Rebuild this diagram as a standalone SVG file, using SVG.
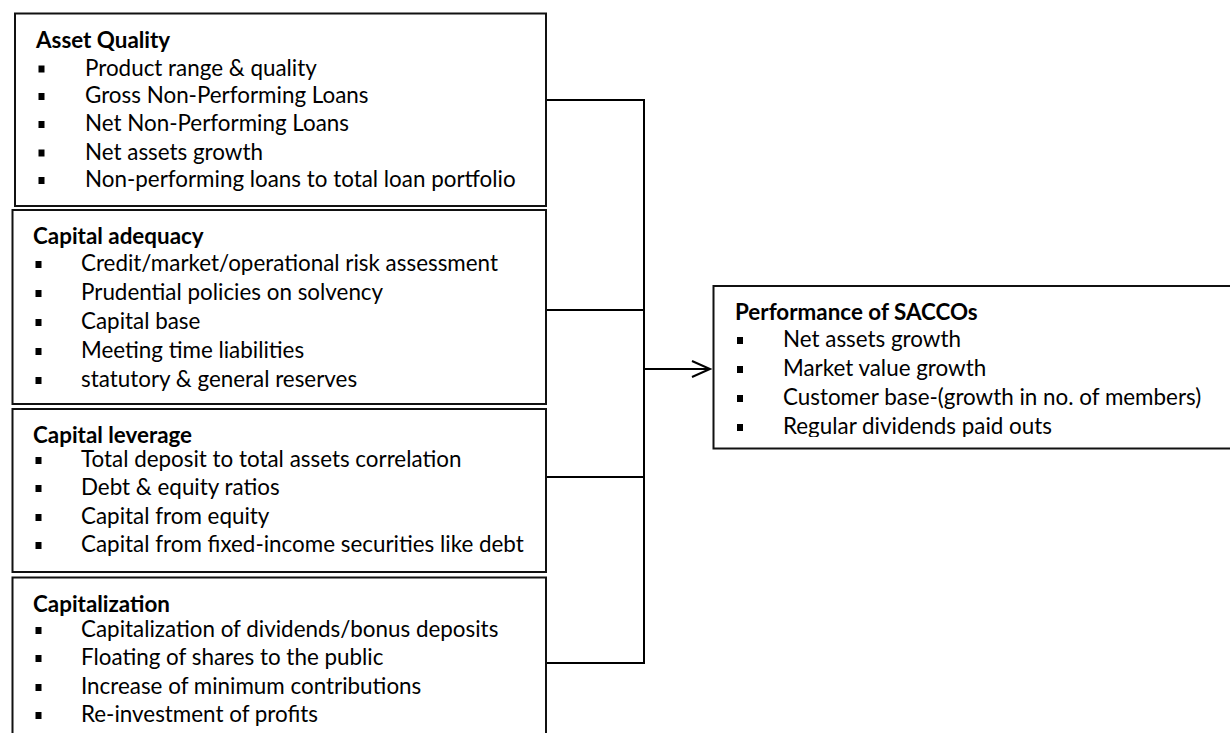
<svg xmlns="http://www.w3.org/2000/svg" width="1230" height="733" viewBox="0 0 1230 733">
<defs>
<style>
.box{fill:#fff;stroke:#111;stroke-width:2}
.t{font-family:Lato,"Noto Sans","Liberation Sans",sans-serif;font-size:22.4px;fill:#000}
.h{font-weight:bold}
.b{fill:#000}
.c{stroke:#000;stroke-width:2;fill:none}
</style>
<marker id="arr" markerWidth="24" markerHeight="20" refX="20" refY="10" orient="auto" markerUnits="userSpaceOnUse">
<path d="M2,2 L20,10 L2,18" fill="none" stroke="#000" stroke-width="2"/>
</marker>
<clipPath id="clipPerf"><rect x="700" y="280" width="540" height="157"/></clipPath>
<clipPath id="clipCap"><rect x="0" y="570" width="560" height="156"/></clipPath>
</defs>
<rect width="1230" height="733" fill="#fff"/>

<g id="connectors">
<line class="c" x1="546" y1="100" x2="644" y2="100"/>
<line class="c" x1="546" y1="310" x2="644" y2="310"/>
<line class="c" x1="546" y1="477" x2="644" y2="477"/>
<line class="c" x1="546" y1="663" x2="644" y2="663"/>
<line class="c" x1="644" y1="99" x2="644" y2="664"/>
<line class="c" x1="644" y1="369" x2="710" y2="369" marker-end="url(#arr)"/>
</g>

<g id="asset-quality">
<rect class="box" x="15" y="13.5" width="531" height="192.5"/>
<text class="t h" x="36" y="48">Asset Quality</text>
<rect class="b" x="38.5" y="65.5" width="6" height="7"/>
<text class="t" x="85" y="75.5">Product range &amp; quality</text>
<rect class="b" x="38.5" y="93" width="6" height="7"/>
<text class="t" x="85" y="103">Gross Non-Performing Loans</text>
<rect class="b" x="38.5" y="121" width="6" height="7"/>
<text class="t" x="85" y="131">Net Non-Performing Loans</text>
<rect class="b" x="38.5" y="149.5" width="6" height="7"/>
<text class="t" x="85" y="159.5">Net assets growth</text>
<rect class="b" x="38.5" y="177" width="6" height="7"/>
<text class="t" x="85" y="187">Non-performing loans to total loan portfolio</text>
</g>

<g id="capital-adequacy">
<rect class="box" x="12.5" y="210" width="533.5" height="194"/>
<text class="t h" x="33" y="243.5">Capital adequacy</text>
<rect class="b" x="35.5" y="261" width="6" height="7"/>
<text class="t" x="81" y="271">Credit/market/operational risk assessment</text>
<rect class="b" x="35.5" y="290" width="6" height="7"/>
<text class="t" x="81" y="300">Prudential policies on solvency</text>
<rect class="b" x="35.5" y="319" width="6" height="7"/>
<text class="t" x="81" y="329">Capital base</text>
<rect class="b" x="35.5" y="348" width="6" height="7"/>
<text class="t" x="81" y="358">Meeting time liabilities</text>
<rect class="b" x="35.5" y="377" width="6" height="7"/>
<text class="t" x="81" y="387">statutory &amp; general reserves</text>
</g>

<g id="capital-leverage">
<rect class="box" x="12.5" y="409" width="533.5" height="163"/>
<text class="t h" x="33" y="442.5">Capital leverage</text>
<rect class="b" x="35.5" y="457" width="6" height="7"/>
<text class="t" x="81" y="467">Total deposit to total assets correlation</text>
<rect class="b" x="35.5" y="485" width="6" height="7"/>
<text class="t" x="81" y="495">Debt &amp; equity ratios</text>
<rect class="b" x="35.5" y="514" width="6" height="7"/>
<text class="t" x="81" y="524">Capital from equity</text>
<rect class="b" x="35.5" y="542" width="6" height="7"/>
<text class="t" x="81" y="552">Capital from fixed-income securities like debt</text>
</g>

<g id="capitalization">
<rect class="box" x="12.5" y="577.5" width="533.5" height="170"/>
<g clip-path="url(#clipCap)">
<text class="t h" x="33" y="611.5">Capitalization</text>
<rect class="b" x="35.5" y="627" width="6" height="7"/>
<text class="t" x="81" y="637">Capitalization of dividends/bonus deposits</text>
<rect class="b" x="35.5" y="655" width="6" height="7"/>
<text class="t" x="81" y="665">Floating of shares to the public</text>
<rect class="b" x="35.5" y="684" width="6" height="7"/>
<text class="t" x="81" y="694">Increase of minimum contributions</text>
<rect class="b" x="35.5" y="712" width="6" height="7"/>
<text class="t" x="81" y="722">Re-investment of profits</text>
</g>
</g>

<g id="performance">
<rect class="box" x="713.5" y="286" width="530" height="162.5"/>
<g clip-path="url(#clipPerf)">
<text class="t h" x="735" y="320">Performance of SACCOs</text>
<rect class="b" x="737" y="337" width="6" height="7"/>
<text class="t" x="783" y="347">Net assets growth</text>
<rect class="b" x="737" y="366" width="6" height="7"/>
<text class="t" x="783" y="376">Market value growth</text>
<rect class="b" x="737" y="395" width="6" height="7"/>
<text class="t" x="783" y="405">Customer base-(growth in no. of members)</text>
<rect class="b" x="737" y="424" width="6" height="7"/>
<text class="t" x="783" y="434">Regular dividends paid outs</text>
</g>
</g>
</svg>
